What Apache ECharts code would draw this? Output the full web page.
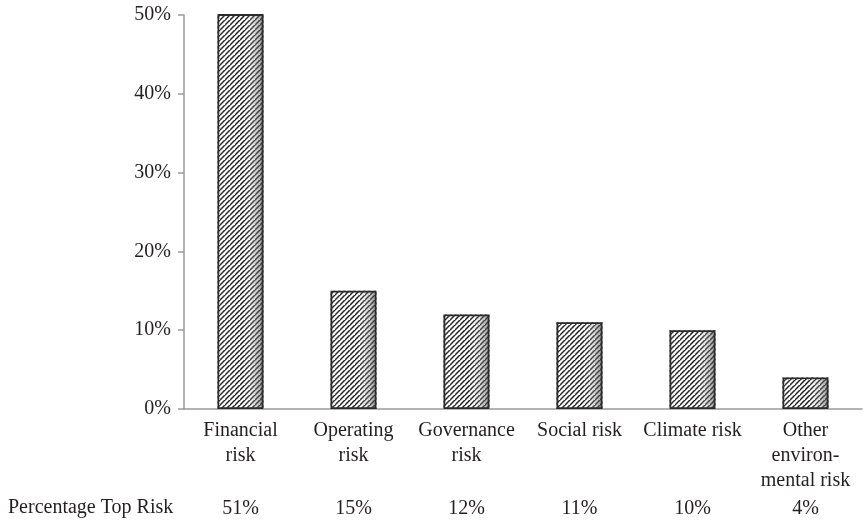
<!DOCTYPE html>
<html>
<head>
<meta charset="utf-8">
<script src="https://cdn.jsdelivr.net/npm/echarts@6/dist/echarts.min.js"></script>
<style>
  html, body { margin: 0; padding: 0; background: #fff; }
  #chart { width: 864px; height: 521px; }
</style>
</head>
<body>
<div id="chart"></div>
<script>
// Share of respondents naming each category as their top risk
const categories = [
  'Financial\nrisk',
  'Operating\nrisk',
  'Governance\nrisk',
  'Social risk',
  'Climate risk',
  'Other\nenviron-\nmental risk'
];
const values = [0.51, 0.15, 0.12, 0.11, 0.10, 0.04];
const yTicks = [0, 0.1, 0.2, 0.3, 0.4, 0.5];
const tableTitle = 'Percentage Top Risk';

const pct = v => Math.round(v * 100) + '%';
const serif = '"Liberation Serif", "Times New Roman", serif';
const textColor = '#231f20';
const fontSize = 20;

// Fine "/" hatch tile used as the bar fill
function hatchTile() {
  const s = 5;
  const c = document.createElement('canvas');
  c.width = s; c.height = s;
  const g = c.getContext('2d');
  g.fillStyle = '#ffffff';
  g.fillRect(0, 0, s, s);
  g.strokeStyle = 'rgba(15,15,15,0.95)';
  g.lineWidth = 1.5;
  g.beginPath();
  g.moveTo(-1, s + 1); g.lineTo(s + 1, -1);
  g.moveTo(-1 - s, s + 1); g.lineTo(1, -1);
  g.moveTo(s - 1, 2 * s + 1); g.lineTo(2 * s + 1, s - 1);
  g.stroke();
  return c;
}

const chart = echarts.init(document.getElementById('chart'), null, { renderer: 'canvas' });

const labelStyle = {
  margin: 9,
  fontFamily: serif,
  fontSize: fontSize,
  lineHeight: 25,
  color: textColor,
  interval: 0
};

chart.setOption({
  animation: false,
  backgroundColor: '#fff',
  grid: { left: 184, right: 2, top: 15, bottom: 111, containLabel: false },
  xAxis: [
    {
      type: 'category',
      data: categories,
      axisLine: { show: true, lineStyle: { color: '#9a9a9a', width: 1.5 } },
      axisTick: { show: false },
      axisLabel: labelStyle
    },
    {
      // data-table row under the category labels
      type: 'category',
      position: 'bottom',
      offset: 78,
      data: values.map(pct),
      axisLine: { show: false },
      axisTick: { show: false },
      axisLabel: labelStyle
    }
  ],
  yAxis: {
    type: 'value',
    min: yTicks[0],
    max: yTicks[yTicks.length - 1],
    interval: 0.1,
    splitLine: { show: false },
    axisLine: { show: true, lineStyle: { color: '#9a9a9a', width: 1.5 } },
    axisTick: { show: true, length: 6, lineStyle: { color: '#9a9a9a', width: 1.5 } },
    axisLabel: {
      margin: 13,
      fontFamily: serif,
      fontSize: fontSize,
      color: textColor,
      formatter: v => pct(v)
    }
  },
  series: [
    {
      // hatched fill
      type: 'bar',
      data: values,
      barWidth: 46,
      clip: true,
      itemStyle: {
        color: { image: hatchTile(), repeat: 'repeat' }
      }
    },
    {
      // shading toward the right edge, plus outline
      type: 'bar',
      data: values,
      barWidth: 46,
      barGap: '-100%',
      clip: true,
      itemStyle: {
        color: new echarts.graphic.LinearGradient(0, 0, 1, 0, [
          { offset: 0, color: 'rgba(255,255,255,0.1)' },
          { offset: 0.55, color: 'rgba(255,255,255,0)' },
          { offset: 1, color: 'rgba(70,70,70,0.6)' }
        ]),
        borderColor: '#2b2b2b',
        borderWidth: 1.8
      }
    }
  ],
  graphic: [{
    type: 'text',
    left: 8,
    top: 498,
    style: {
      text: tableTitle,
      font: fontSize + 'px ' + serif,
      fill: textColor
    }
  }]
});
</script>
</body>
</html>
